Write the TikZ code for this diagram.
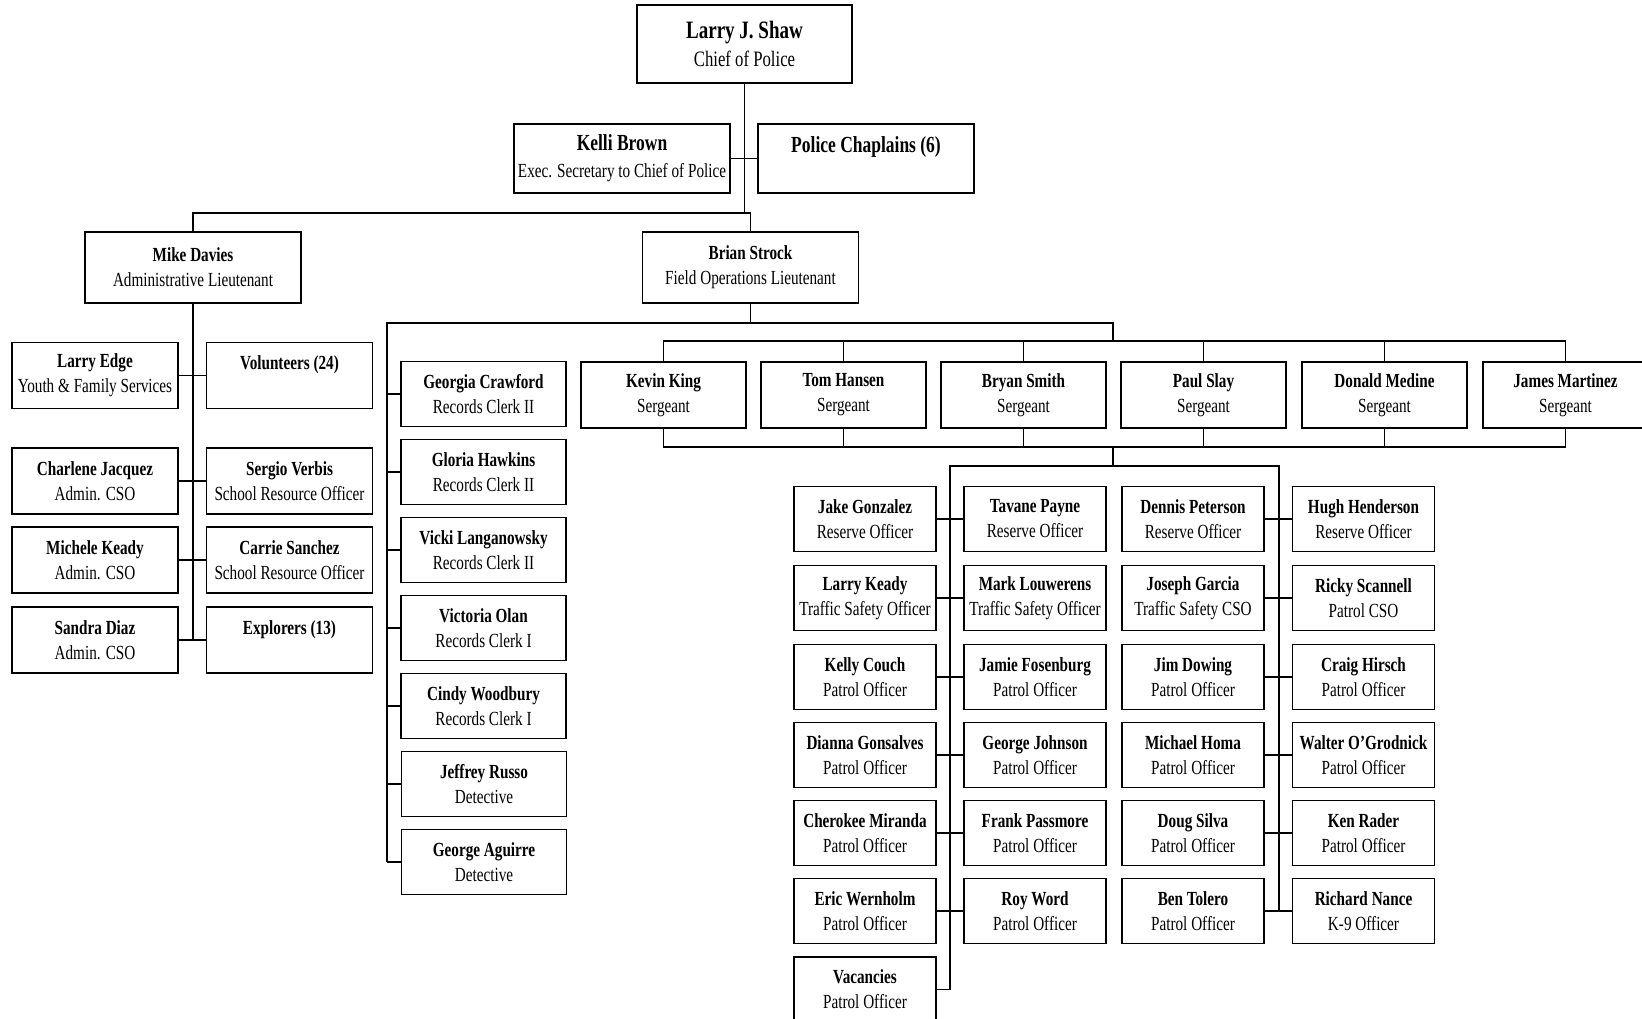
\documentclass[tikz,border=0pt]{standalone}
\usepackage{fontspec}
\setmainfont{Liberation Serif}[FakeStretch=0.76]
\begin{document}
\begin{tikzpicture}[x=1pt,y=-1pt,
  box/.style={draw,line width=1.5pt,inner sep=0pt,align=center,minimum height=65pt,font=\fontsize{20}{25}\selectfont},
  top/.style={box,minimum width=216pt,minimum height=69pt,font=\fontsize{20}{27}\selectfont},
  lt/.style={box,minimum width=216pt,minimum height=71pt},
  side/.style={box,minimum width=166pt,minimum height=66pt},
  clerk/.style={box,minimum width=165pt},
  sgt/.style={box,minimum width=165pt,minimum height=66pt},
  cop/.style={box,minimum width=142pt},
  link/.style={line width=1.6pt}]
\path[use as bounding box,clip] (0,0) rectangle (1642,1019);
\node [box,minimum width=215pt,minimum height=78pt,font=\fontsize{22}{28}\selectfont] (chief) at (744.5,44) {{\fontsize{25}{28}\selectfont\textbf{Larry J. Shaw}}\\Chief of Police};
\node [top] (kelli) at (622,158.5) {{\fontsize{23}{27}\selectfont\textbf{Kelli Brown}}\\Exec. Secretary to Chief of Police};
\node [top] (chap) at (866,158.5) {{\fontsize{23}{27}\selectfont\textbf{Police Chaplains (6)}}\\\mbox{}};
\node [lt] (mike) at (193,267.5) {\textbf{Mike Davies}\\Administrative Lieutenant};
\node [lt] (brian) at (750.5,267.5) {\textbf{Brian Strock}\\Field Operations Lieutenant};
\node [side] (edge) at (95,375.5) {\textbf{Larry Edge}\\Youth \& Family Services};
\node [side] (vol) at (289.5,375.5) {\textbf{Volunteers (24)}\\\mbox{}};
\node [side] (charlene) at (95,481) {\textbf{Charlene Jacquez}\\Admin. CSO};
\node [side] (sergio) at (289.5,481) {\textbf{Sergio Verbis}\\School Resource Officer};
\node [side] (michele) at (95,560) {\textbf{Michele Keady}\\Admin. CSO};
\node [side] (carrie) at (289.5,560) {\textbf{Carrie Sanchez}\\School Resource Officer};
\node [side] (sandra) at (95,640) {\textbf{Sandra Diaz}\\Admin. CSO};
\node [side] (explorers) at (289.5,640) {\textbf{Explorers (13)}\\\mbox{}};
\node [clerk] (georgia) at (483.5,394) {\textbf{Georgia Crawford}\\Records Clerk II};
\node [clerk] (gloria) at (483.5,472) {\textbf{Gloria Hawkins}\\Records Clerk II};
\node [clerk] (vicki) at (483.5,550) {\textbf{Vicki Langanowsky}\\Records Clerk II};
\node [clerk] (victoria) at (483.5,628) {\textbf{Victoria Olan}\\Records Clerk I};
\node [clerk] (cindy) at (483.5,706) {\textbf{Cindy Woodbury}\\Records Clerk I};
\node [clerk] (jeffrey) at (484,784) {\textbf{Jeffrey Russo}\\Detective};
\node [clerk] (aguirre) at (484,862) {\textbf{George Aguirre}\\Detective};
\node [sgt] (kevin) at (663.5,395) {\textbf{Kevin King}\\Sergeant};
\node [sgt] (tom) at (843.5,395) {\textbf{Tom Hansen}\\Sergeant};
\node [sgt] (bryan) at (1023.5,395) {\textbf{Bryan Smith}\\Sergeant};
\node [sgt] (paul) at (1203.5,395) {\textbf{Paul Slay}\\Sergeant};
\node [sgt] (donald) at (1384.5,395) {\textbf{Donald Medine}\\Sergeant};
\node [sgt] (james) at (1565.5,395) {\textbf{James Martinez}\\Sergeant};
\node [cop] (jake) at (865,519) {\textbf{Jake Gonzalez}\\Reserve Officer};
\node [cop] (larryk) at (865,598) {\textbf{Larry Keady}\\Traffic Safety Officer};
\node [cop] (kelly) at (865,677) {\textbf{Kelly Couch}\\Patrol Officer};
\node [cop] (dianna) at (865,755) {\textbf{Dianna Gonsalves}\\Patrol Officer};
\node [cop] (cherokee) at (865,833) {\textbf{Cherokee Miranda}\\Patrol Officer};
\node [cop] (eric) at (865,911) {\textbf{Eric Wernholm}\\Patrol Officer};
\node [cop] (vac) at (865,989.5) {\textbf{Vacancies}\\Patrol Officer};
\node [cop] (tavane) at (1035,519) {\textbf{Tavane Payne}\\Reserve Officer};
\node [cop] (mark) at (1035,598) {\textbf{Mark Louwerens}\\Traffic Safety Officer};
\node [cop] (jamie) at (1035,677) {\textbf{Jamie Fosenburg}\\Patrol Officer};
\node [cop] (johnson) at (1035,755) {\textbf{George Johnson}\\Patrol Officer};
\node [cop] (frank) at (1035,833) {\textbf{Frank Passmore}\\Patrol Officer};
\node [cop] (roy) at (1035,911) {\textbf{Roy Word}\\Patrol Officer};
\node [cop] (dennis) at (1193,519) {\textbf{Dennis Peterson}\\Reserve Officer};
\node [cop] (joseph) at (1193,598) {\textbf{Joseph Garcia}\\Traffic Safety CSO};
\node [cop] (jim) at (1193,677) {\textbf{Jim Dowing}\\Patrol Officer};
\node [cop] (homa) at (1193,755) {\textbf{Michael Homa}\\Patrol Officer};
\node [cop] (doug) at (1193,833) {\textbf{Doug Silva}\\Patrol Officer};
\node [cop] (ben) at (1193,911) {\textbf{Ben Tolero}\\Patrol Officer};
\node [cop] (hugh) at (1363.5,519) {\textbf{Hugh Henderson}\\Reserve Officer};
\node [cop] (ricky) at (1363.5,598) {\textbf{Ricky Scannell}\\Patrol CSO};
\node [cop] (craig) at (1363.5,677) {\textbf{Craig Hirsch}\\Patrol Officer};
\node [cop] (walter) at (1363.5,755) {\textbf{Walter O'Grodnick}\\Patrol Officer};
\node [cop] (ken) at (1363.5,833) {\textbf{Ken Rader}\\Patrol Officer};
\node [cop] (nance) at (1363.5,911) {\textbf{Richard Nance}\\K-9 Officer};
\coordinate (split) at (745,213);
\coordinate (rectop) at (387,323);
\coordinate (sgttop) at (1113,341);
\coordinate (sgtlow) at (1113,447);
\coordinate (lspine) at (950,466);
\coordinate (rspine) at (1279,466);
\draw [link] (chief) -- (chief |- split);
\draw [link] (kelli) -- (chap);
\draw [link] (mike) |- (split) -| (brian);
\draw [link] (mike) -- (mike |- explorers);
\draw [link] (edge) -- (vol);
\draw [link] (charlene) -- (sergio);
\draw [link] (michele) -- (carrie);
\draw [link] (sandra) -- (explorers);
\draw [link] (brian) -- (brian |- rectop);
\draw [link] (aguirre -| rectop) -- (rectop) -| (sgttop);
\draw [link] (georgia) -- (georgia -| rectop);
\draw [link] (gloria) -- (gloria -| rectop);
\draw [link] (vicki) -- (vicki -| rectop);
\draw [link] (victoria) -- (victoria -| rectop);
\draw [link] (cindy) -- (cindy -| rectop);
\draw [link] (jeffrey) -- (jeffrey -| rectop);
\draw [link] (aguirre) -- (aguirre -| rectop);
\draw [link] (kevin) |- (sgttop) -| (james);
\draw [link] (tom) -- (tom |- sgttop);
\draw [link] (bryan) -- (bryan |- sgttop);
\draw [link] (paul) -- (paul |- sgttop);
\draw [link] (donald) -- (donald |- sgttop);
\draw [link] (kevin) |- (sgtlow) -| (james);
\draw [link] (tom) -- (tom |- sgtlow);
\draw [link] (bryan) -- (bryan |- sgtlow);
\draw [link] (paul) -- (paul |- sgtlow);
\draw [link] (donald) -- (donald |- sgtlow);
\draw [link] (sgtlow) -- (sgtlow |- lspine);
\draw [link] (vac -| lspine) -- (lspine) -- (rspine) -- (rspine |- nance);
\draw [link] (jake) -- (tavane);
\draw [link] (larryk) -- (mark);
\draw [link] (kelly) -- (jamie);
\draw [link] (dianna) -- (johnson);
\draw [link] (cherokee) -- (frank);
\draw [link] (eric) -- (roy);
\draw [link] (vac) -- (vac -| lspine);
\draw [link] (dennis) -- (hugh);
\draw [link] (joseph) -- (ricky);
\draw [link] (jim) -- (craig);
\draw [link] (homa) -- (walter);
\draw [link] (doug) -- (ken);
\draw [link] (ben) -- (nance);
\end{tikzpicture}
\end{document}
